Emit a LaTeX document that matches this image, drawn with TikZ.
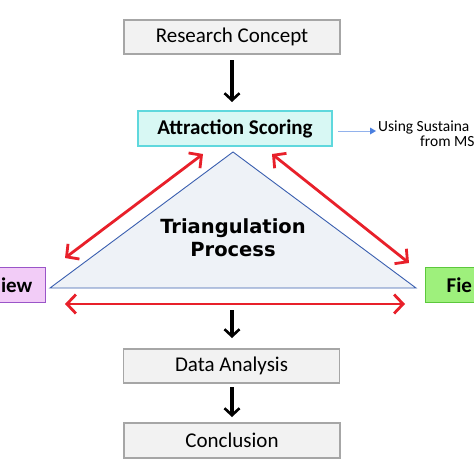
\documentclass[tikz,border=0pt]{standalone}
\usepackage{fontspec}
\setmainfont{Carlito}
\newfontfamily\heavyfont{DejaVu Sans}
\usetikzlibrary{arrows.meta}
\definecolor{boxgray}{HTML}{F2F2F2}
\definecolor{boxborder}{HTML}{A6A6A6}
\definecolor{cyanfill}{HTML}{D8F8F4}
\definecolor{cyanborder}{HTML}{5FD8DD}
\definecolor{lavfill}{HTML}{F2CCF7}
\definecolor{lavborder}{HTML}{9A55C8}
\definecolor{grfill}{HTML}{9EF07C}
\definecolor{grborder}{HTML}{5CC83C}
\definecolor{triblue}{HTML}{3A5FB0}
\definecolor{trifill}{HTML}{EEF2F7}
\definecolor{arrred}{HTML}{E8202A}
\definecolor{sideblue}{HTML}{4A7FE0}
\tikzset{
  x=1pt, y=1pt,
  graybox/.style={draw=boxborder, fill=boxgray, line width=1.2pt, minimum width=216pt, minimum height=34pt, inner sep=0pt, font=\fontsize{21}{24}\selectfont},
  blkarrow/.style={line width=4pt, -{Straight Barb[length=7pt,width=15pt,line width=2.6pt]}},
  redarrow/.style={draw=arrred, line width=2.8pt, {Straight Barb[length=9pt,width=19pt]}-{Straight Barb[length=9pt,width=19pt]}},
  sidetext/.style={font=\fontsize{15.5}{16}\selectfont, inner sep=0pt, anchor=base west}
}
\begin{document}
\begin{tikzpicture}
\useasboundingbox (0,0) rectangle (474,-474);
\clip (0,0) rectangle (474,-474);
\fill[white] (0,0) rectangle (474,-474);

% boxes
\node[graybox] (rc) at (232,-37) {Research Concept};
\node[draw=cyanborder, fill=cyanfill, line width=1.5pt, minimum width=194pt, minimum height=35pt, inner sep=0pt, font=\fontsize{21}{24}\selectfont\bfseries] (as) at (235,-128.5) {Attraction Scoring};
\node[graybox] (da) at (231.5,-366) {Data Analysis};
\node[graybox, minimum height=35pt] (cc) at (232,-440.5) {Conclusion};

% side boxes
\node[draw=lavborder, fill=lavfill, line width=1.3pt, minimum height=35pt, text width=70pt, align=right, inner xsep=13pt, inner ysep=0pt, anchor=east, font=\fontsize{21}{24}\selectfont\bfseries] (iv) at (46,-285) {iew};
\node[draw=grborder, fill=grfill, line width=1.3pt, minimum height=35pt, text width=70pt, align=left, inner xsep=21pt, inner ysep=0pt, anchor=west, font=\fontsize{21}{24}\selectfont\bfseries] (fw) at (425,-285) {Fie};

% triangle
\coordinate (ta) at (233,-152);
\coordinate (tl) at (50,-288);
\coordinate (tr) at (416,-288);
\filldraw[draw=triblue, fill=trifill, line width=0.9pt] (ta) -- (tl) -- (tr) -- cycle;
\node[font=\heavyfont\bfseries\fontsize{19.5}{23}\selectfont, align=center, inner sep=0pt] (tp) at (233,-238) {Triangulation\\Process};

% red arrows
\coordinate (l1) at (65,-258);
\coordinate (l2) at (203,-154);
\coordinate (r1) at (272,-154);
\coordinate (r2) at (409,-263);
\coordinate (b1) at (65,-304);
\coordinate (b2) at (405,-304);
\draw[redarrow] (l1) -- (l2);
\draw[redarrow] (r1) -- (r2);
\draw[redarrow] (b1) -- (b2);

% black arrows
\coordinate (a1s) at (232,-60);
\coordinate (a1e) at (232,-102);
\draw[blkarrow] (a1s) -- (a1e);
\coordinate (a2s) at (232,-310);
\coordinate (a2e) at (232,-338);
\draw[blkarrow] (a2s) -- (a2e);
\coordinate (a3s) at (232,-387);
\coordinate (a3e) at (232,-417);
\draw[blkarrow] (a3s) -- (a3e);

% side note
\coordinate (sn1) at (338,-131);
\coordinate (sn2) at (370,-131);
\draw[sideblue!60, line width=0.8pt] (sn1) -- (sn2);
\fill[sideblue] (370,-127.5) -- (370,-134.5) -- (376,-131) -- cycle;
\node[sidetext] (st1) at (378,-131) {Using Sustaina};
\node[sidetext] (st2) at (420,-146) {from MS};
\end{tikzpicture}
\end{document}
